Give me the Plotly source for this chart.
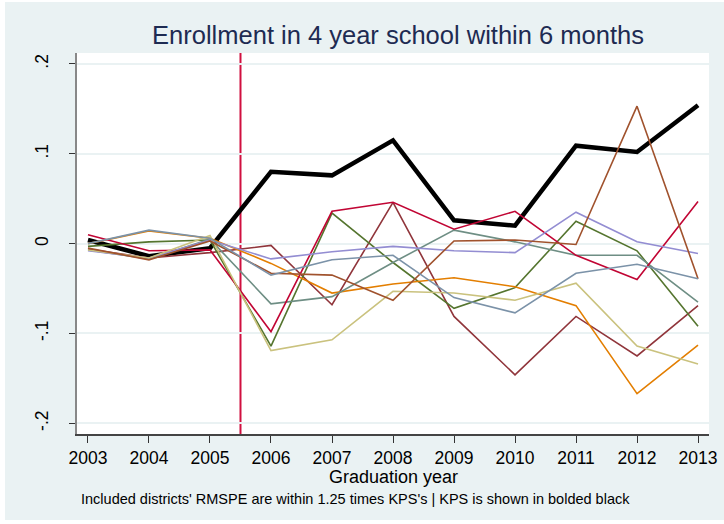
import plotly.graph_objects as go

# Graduation years on the x axis
years = [2003, 2004, 2005, 2006, 2007, 2008, 2009, 2010, 2011, 2012, 2013]

# KPS (bold black) and comparison districts, gap in 4-year enrollment
kps = [0.004, -0.014, -0.005, 0.080, 0.076, 0.115, 0.026, 0.020, 0.109, 0.102, 0.154]
district_maroon = [-0.006, -0.016, -0.010, -0.002, -0.068, 0.046, -0.081, -0.146, -0.081, -0.125, -0.069]
district_green = [-0.003, 0.002, 0.004, -0.114, 0.034, -0.021, -0.072, -0.049, 0.025, -0.008, -0.092]
district_orange = [0.000, 0.014, 0.006, -0.022, -0.055, -0.045, -0.038, -0.048, -0.069, -0.167, -0.113]
district_teal = [-0.007, -0.017, 0.005, -0.067, -0.059, -0.021, 0.015, 0.002, -0.013, -0.013, -0.065]
district_cranberry = [0.010, -0.008, -0.007, -0.098, 0.036, 0.046, 0.016, 0.036, -0.013, -0.040, 0.047]
district_lavender = [-0.008, -0.016, 0.004, -0.017, -0.009, -0.003, -0.008, -0.010, 0.035, 0.002, -0.011]
district_khaki = [-0.007, -0.016, 0.009, -0.119, -0.107, -0.053, -0.055, -0.063, -0.044, -0.114, -0.134]
district_sienna = [-0.005, -0.018, 0.003, -0.033, -0.035, -0.063, 0.003, 0.004, -0.001, 0.153, -0.039]
district_emidblue = [0.000, 0.015, 0.006, -0.035, -0.018, -0.013, -0.060, -0.077, -0.033, -0.023, -0.039]

treatment_year = 2005.5

y_tickvals = [-0.2, -0.1, 0, 0.1, 0.2]
y_ticktext = ["-.2", "-.1", "0", ".1", ".2"]

BG = "#EAF2F3"
FONT = "Liberation Sans, Arial, sans-serif"

fig = go.Figure()

fig.add_trace(go.Scatter(x=years, y=kps, mode="lines",
                         line=dict(color="black", width=4.5)))

districts = [
    (district_maroon, "#90353B"),
    (district_green, "#55752F"),
    (district_orange, "#E37E00"),
    (district_teal, "#6E8E84"),
    (district_cranberry, "#C10534"),
    (district_lavender, "#938DD2"),
    (district_khaki, "#CAC27E"),
    (district_sienna, "#A0522D"),
    (district_emidblue, "#7B92A8"),
]
for vals, col in districts:
    fig.add_trace(go.Scatter(x=years, y=vals, mode="lines",
                             line=dict(color=col, width=1.6)))

# Plot area spans pixels x 77..709, y 53..434 of a 724x524 page
L, R, T, B = 77, 709, 53, 434
W, H = R - L, B - T


def px_x(p):
    return (p - L) / W


def px_y(p):
    return (B - p) / H


# vertical line marking the treatment year
fig.add_shape(type="line", xref="x", yref="paper", x0=treatment_year, x1=treatment_year,
              y0=0, y1=1, line=dict(color="#D0103F", width=2), layer="below")

# thin white frame around the graph region
for x0, x1, y0, y1 in [(0, 5, 0, 524), (0, 724, 0, 2), (0, 724, 520, 524)]:
    fig.add_shape(type="rect", xref="paper", yref="paper",
                  x0=px_x(x0), x1=px_x(x1), y0=px_y(y1), y1=px_y(y0),
                  fillcolor="white", line=dict(width=0), layer="above")

# x axis title and footnote
fig.add_annotation(text="Graduation year",
                   xref="paper", yref="paper", x=px_x(393), y=px_y(477),
                   xanchor="center", yanchor="middle", showarrow=False,
                   font=dict(family=FONT, size=18, color="black"))

fig.add_annotation(text="Included districts' RMSPE are within 1.25 times KPS's | KPS is shown in bolded black",
                   xref="paper", yref="paper", x=px_x(79), y=px_y(499),
                   xanchor="left", yanchor="middle", showarrow=False,
                   font=dict(family=FONT, size=14.5, color="black"))

fig.update_layout(
    width=724, height=524,
    margin=dict(l=L, r=724 - R, t=T, b=524 - B),
    paper_bgcolor=BG, plot_bgcolor="white",
    showlegend=False,
    title=dict(text="Enrollment in 4 year school within 6 months",
               x=px_x(398), xref="paper", xanchor="center",
               y=1 - 35 / 524, yref="container", yanchor="middle",
               font=dict(family=FONT, size=25.5, color="#1E2B52")),
    font=dict(family=FONT, size=17.5, color="black"),
)

fig.update_xaxes(range=[2002.82, 2013.18], tickvals=years, automargin=False,
                 ticks="outside", ticklen=7, tickcolor="#333333", tickwidth=1,
                 showline=True, linecolor="#444444", linewidth=1.5,
                 showgrid=False, zeroline=False,
                 tickfont=dict(family=FONT, size=17.5))

fig.update_yaxes(range=[-0.2119, 0.2122], tickvals=y_tickvals, ticktext=y_ticktext,
                 tickangle=-90, ticklabelstandoff=14, automargin=False,
                 ticks="outside", ticklen=6, tickcolor="#333333", tickwidth=1,
                 showline=True, linecolor="#888888", linewidth=1.5,
                 showgrid=True, gridcolor=BG, gridwidth=1.5, zeroline=False,
                 tickfont=dict(family=FONT, size=17.5))

fig.write_html("out.html")
